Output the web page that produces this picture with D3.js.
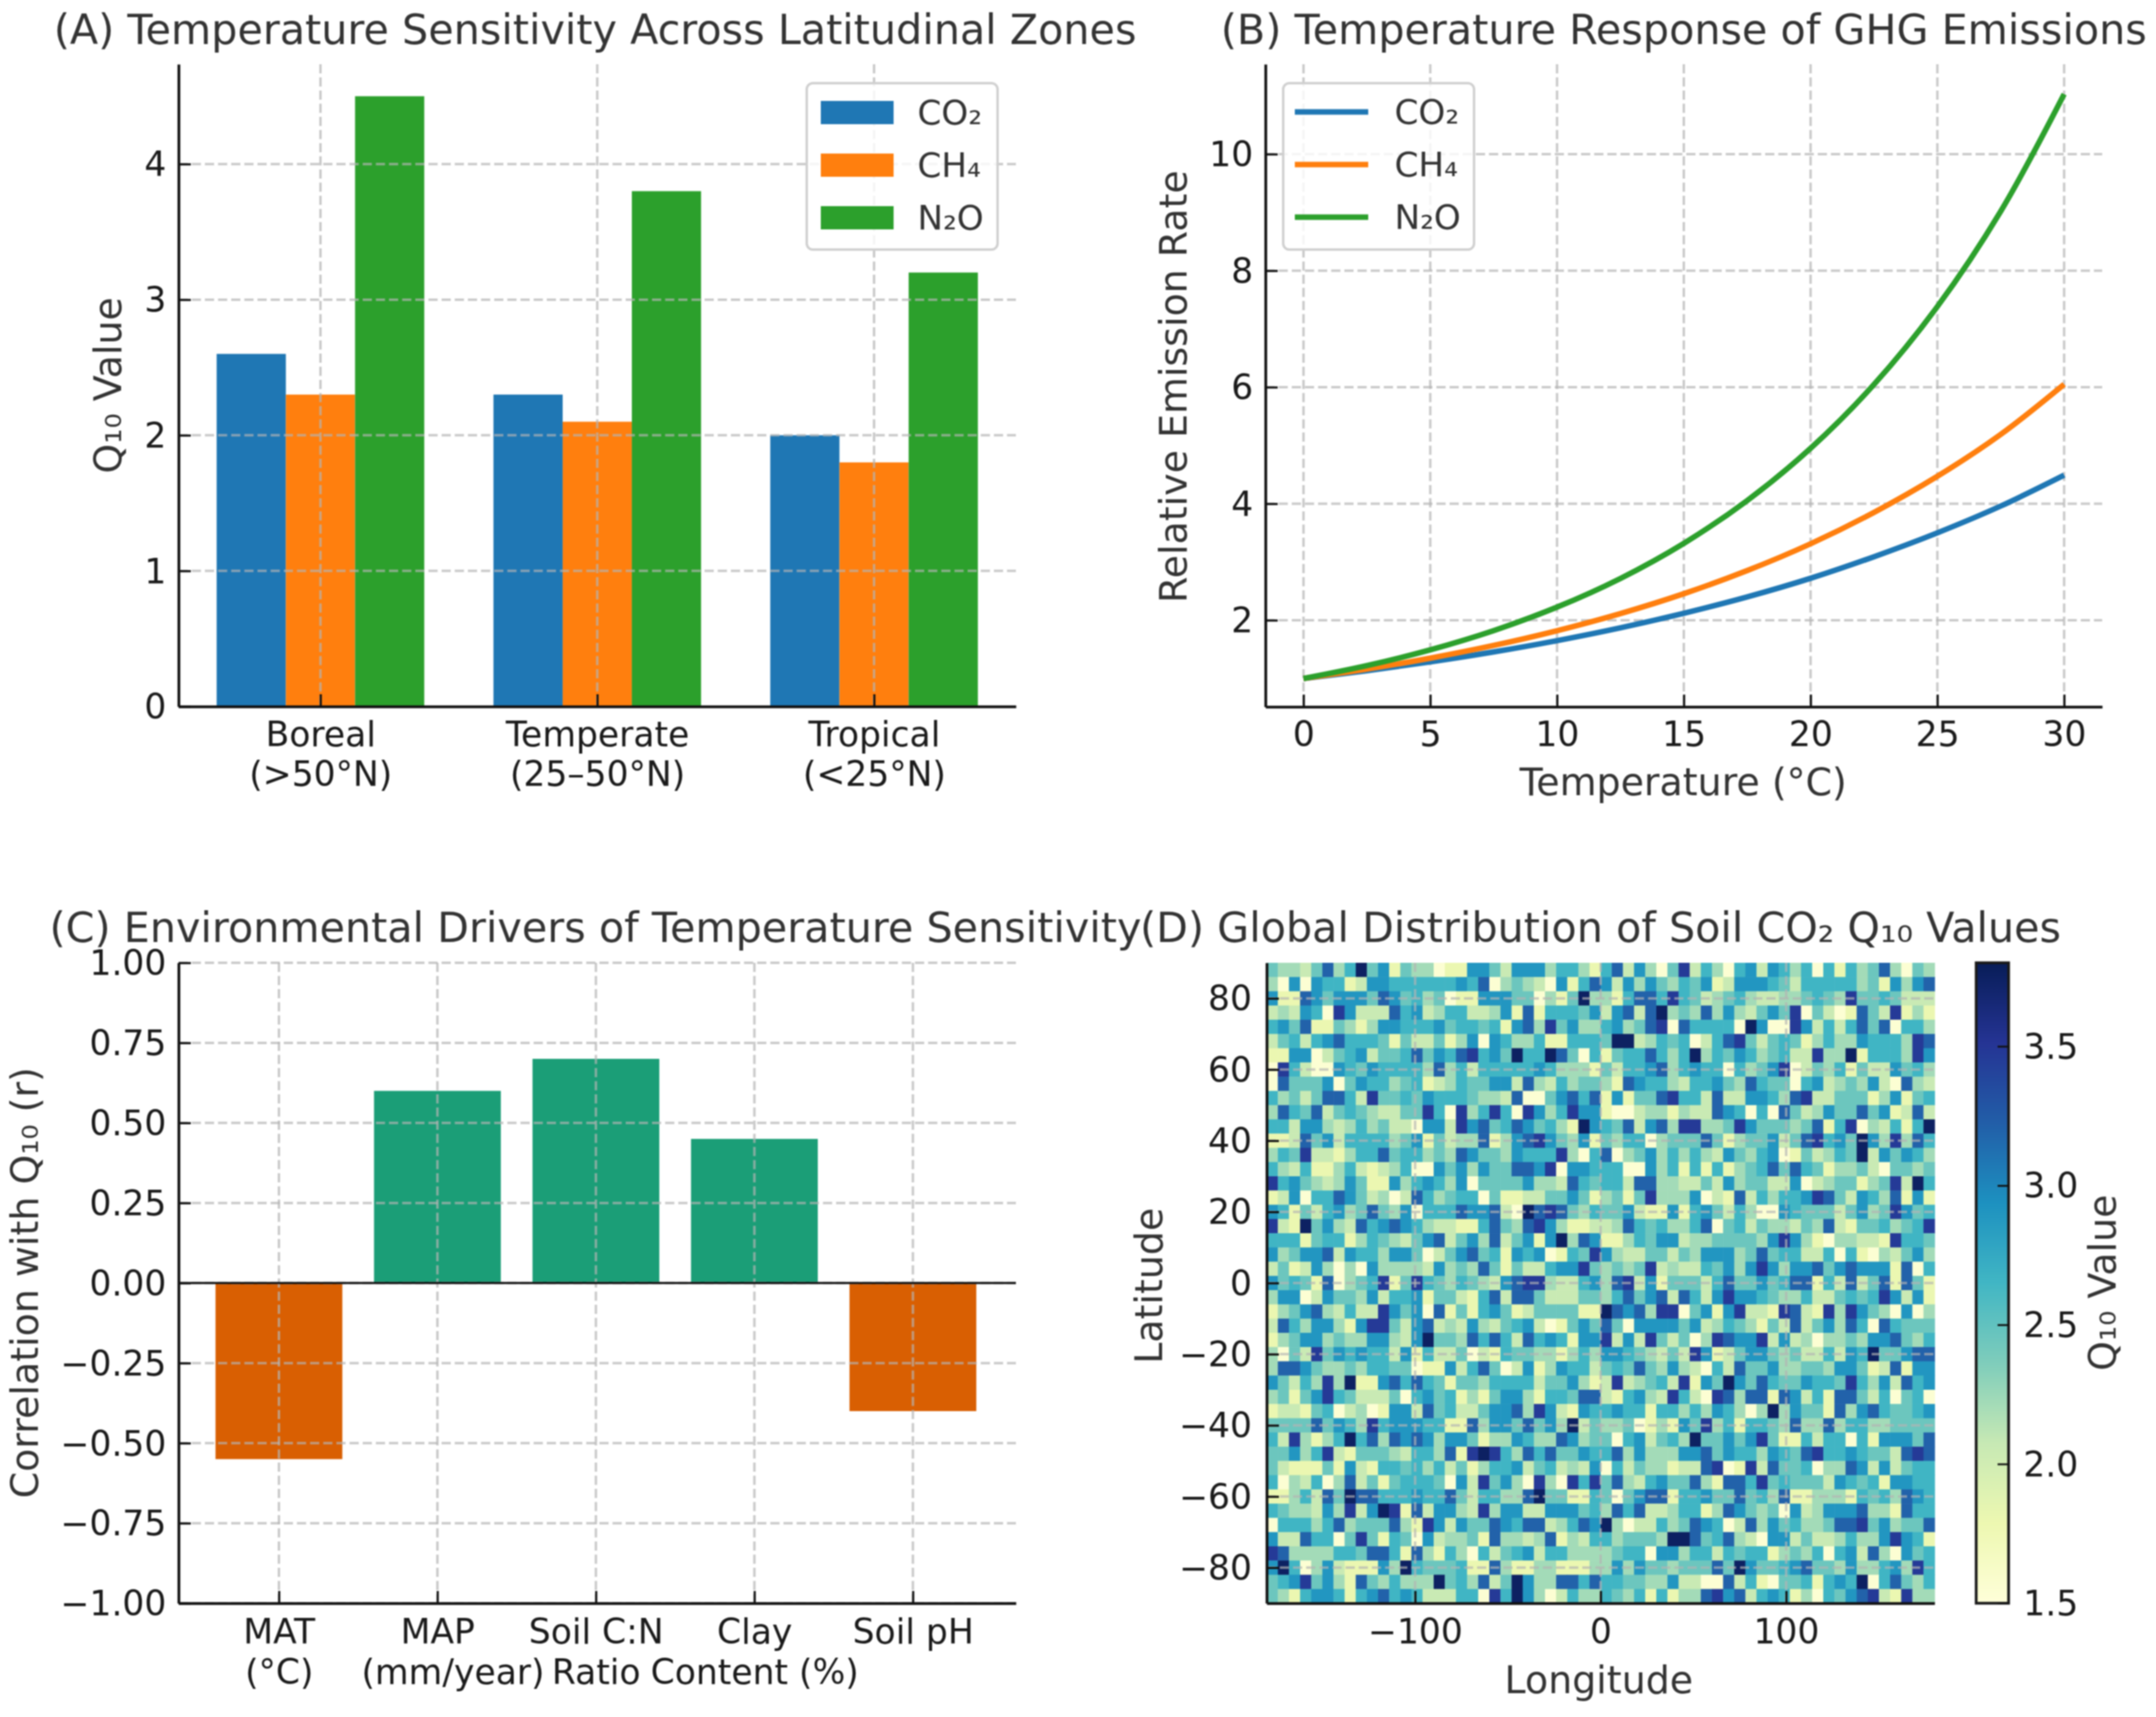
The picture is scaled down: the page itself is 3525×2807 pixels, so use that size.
<!DOCTYPE html>
<html><head><meta charset="utf-8">
<script src="https://cdn.jsdelivr.net/npm/d3@7/dist/d3.min.js"></script>
<style>html,body{margin:0;padding:0;background:#fff}svg{display:block;filter:blur(0.8px)}text{font-family:"DejaVu Sans",sans-serif}</style>
</head><body><div id="c"></div>
<script>
const zones=["Boreal\n(>50°N)","Temperate\n(25–50°N)","Tropical\n(<25°N)"];
const gases=["CO₂","CH₄","N₂O"];
const gasColors=["#1f77b4","#ff7f0e","#2ca02c"];
const q10CO2=[2.6,2.3,2.0];
const q10CH4=[2.3,2.1,1.8];
const q10N2O=[4.5,3.8,3.2];
const temps=[0,2.5,5,7.5,10,12.5,15,17.5,20,22.5,25,27.5,30];
const rateCO2=[1,1.133,1.285,1.456,1.65,1.87,2.12,2.40,2.72,3.09,3.50,3.96,4.49];
const rateCH4=[1,1.161,1.349,1.567,1.82,2.114,2.455,2.852,3.312,3.85,4.47,5.19,6.05];
const rateN2O=[1,1.221,1.492,1.822,2.225,2.717,3.319,4.054,4.951,6.046,7.384,9.02,11.03];
const drivers=["MAT\n(°C)","MAP\n(mm/year)","Soil C:N\nRatio","Clay\nContent (%)","Soil pH"];
const driverR=[-0.55,0.6,0.7,0.45,-0.4];
const ylgnbu=["#ffffd9","#edf8b1","#c7e9b4","#7fcdbb","#41b6c4","#1d91c0","#225ea8","#253494","#081d58"];
const levelValues=[1.54,1.8,2.06,2.22,2.45,2.66,2.9,3.2,3.47,3.75];
const heatLeft=[
"4 3 3 2 4 7 3 5 9 4 6 1 4 3 3 0 1 1 6 6 4 2 6 6 6 3 5 5 3",
"3 0 6 0 6 5 5 1 2 6 6 5 5 5 5 5 5 6 5 7 0 3 4 3 2 0 6 1 5",
"6 1 1 7 6 4 6 6 6 4 7 6 4 5 3 4 0 1 1 6 6 6 4 4 0 3 1 4 9",
"2 3 2 6 5 0 8 6 2 2 2 7 5 6 2 3 5 5 2 2 3 6 1 7 1 5 5 5 4",
"5 6 4 7 1 1 4 3 1 3 6 6 5 5 5 6 4 5 5 4 5 1 6 7 3 8 4 6 3",
"2 4 5 2 5 6 7 5 5 5 4 1 4 2 2 4 1 3 6 0 6 5 3 3 5 1 1 5 5",
"1 1 6 6 0 2 4 5 6 2 4 4 5 7 4 6 5 7 8 5 6 4 9 5 5 9 7 4 0",
"0 8 5 2 0 0 6 5 4 6 5 5 5 5 3 7 3 5 2 5 5 5 5 5 6 5 3 3 3",
"0 7 4 4 4 6 0 4 6 5 5 3 4 5 1 2 3 5 4 4 6 6 2 7 3 2 5 3 4",
"5 3 4 2 4 7 7 5 2 8 4 4 5 4 6 5 5 5 4 3 3 2 7 0 0 4 6 7 5",
"3 7 5 4 7 2 4 5 4 3 2 2 4 4 8 5 0 8 3 5 8 5 0 8 6 3 5 8 6",
"5 5 2 6 6 3 2 3 5 3 4 2 2 0 6 6 2 8 6 7 4 5 7 6 4 5 3 1 9",
"1 1 2 7 4 6 2 5 5 5 5 3 4 6 1 4 2 3 3 7 1 3 6 7 8 6 4 3 6",
"3 5 4 8 2 2 1 3 5 5 7 4 5 5 3 4 3 7 6 4 4 3 6 5 5 5 8 3 0",
"5 3 2 5 1 1 3 5 2 1 2 3 5 0 0 6 4 6 3 6 4 4 7 7 6 8 0 6 6",
"8 5 6 4 3 2 3 6 4 1 1 6 3 5 6 5 3 6 0 4 4 4 4 6 3 3 2 7 5",
"1 2 6 0 5 5 7 6 4 2 3 0 2 7 5 3 4 5 5 0 4 1 1 2 2 4 4 6 4",
"6 5 1 4 2 5 6 3 4 7 4 3 6 0 5 5 5 7 6 6 7 2 0 9 7 8 7 4 3",
"8 2 1 9 4 6 3 2 7 5 6 7 6 5 3 2 2 1 1 5 7 4 3 7 8 6 3 1 1",
"5 5 5 1 4 5 5 1 3 5 4 3 2 4 6 7 2 4 6 3 7 2 4 6 1 6 9 3 7",
"6 3 4 6 6 7 2 6 5 5 3 6 6 4 0 2 4 6 7 4 5 1 6 5 6 0 1 5 4",
"2 4 1 2 6 3 0 3 0 6 3 3 3 3 2 6 3 4 3 7 4 1 4 2 2 5 6 6 8",
"6 4 5 4 1 7 0 3 4 5 8 1 4 8 5 4 3 5 4 3 2 6 7 8 8 3 2 2 5",
"3 6 6 0 2 6 4 4 3 6 2 5 5 6 1 4 4 2 1 5 7 2 7 7 4 2 2 2 4",
"1 3 4 6 7 3 2 5 2 2 8 6 4 6 0 7 1 4 1 5 6 4 1 2 4 4 4 4 1",
"2 7 5 3 6 6 3 1 6 8 8 4 2 6 7 2 3 2 6 3 2 4 5 6 2 0 1 4 6",
"1 3 4 6 6 3 4 3 3 6 6 3 2 6 9 4 4 3 7 5 7 5 2 7 5 6 5 1 6",
"3 0 4 2 8 4 6 5 6 5 5 2 6 1 5 2 2 4 0 2 1 5 4 4 3 3 1 3 5",
"3 7 7 6 4 3 3 4 3 5 5 4 4 0 1 1 6 2 5 7 4 0 2 6 1 3 6 5 5",
"6 4 2 5 3 8 3 9 1 1 6 7 5 7 5 4 1 4 4 3 5 5 5 5 2 4 4 6 3",
"3 4 1 4 6 8 5 4 2 2 2 4 0 5 6 4 5 1 3 1 4 6 6 3 1 5 5 4 7",
"1 2 2 1 4 5 0 2 3 0 1 6 6 2 7 4 5 2 2 4 6 6 7 3 8 6 2 1 6",
"4 4 4 4 7 4 6 5 3 8 5 6 6 6 5 5 1 1 7 3 6 6 4 7 4 6 3 9 2",
"5 2 8 3 1 3 5 9 5 7 3 7 6 7 6 3 6 6 4 1 3 3 6 5 3 3 7 6 3",
"4 4 6 3 5 8 2 1 4 4 4 3 2 5 5 3 7 1 8 9 8 5 3 7 5 7 4 4 6",
"4 2 1 1 1 4 1 6 2 1 5 5 4 5 3 5 2 4 1 3 5 5 6 2 4 5 2 3 2",
"5 0 3 2 5 0 3 7 2 4 1 4 5 5 5 4 0 6 2 8 4 6 3 0 8 3 0 8 5",
"1 1 3 5 2 7 4 9 7 7 5 5 5 6 5 5 7 4 2 5 5 3 3 7 9 4 4 1 1",
"5 4 3 3 2 6 3 8 2 6 9 8 1 7 2 6 6 3 2 8 3 6 6 2 2 6 6 6 4",
"0 5 5 5 3 5 7 3 4 4 4 7 3 1 8 6 2 6 4 4 7 6 5 7 7 2 3 5 7",
"6 2 2 7 5 5 0 4 8 4 1 5 4 0 6 2 3 3 4 1 7 3 3 2 3 7 1 3 2",
"8 7 3 3 3 3 5 5 4 7 7 5 1 7 3 1 5 3 0 5 2 4 5 6 2 5 5 3 3",
"6 9 5 0 3 6 2 1 1 1 6 3 9 5 4 4 4 5 1 1 7 3 1 1 3 3 1 1 1",
"4 5 6 8 4 6 3 1 7 4 3 5 3 3 3 9 4 5 3 7 2 4 9 6 3 3 7 7 5",
"4 3 1 5 6 6 5 1 5 6 7 5 6 5 2 2 2 5 5 0 8 5 9 6 3 0 2 5 3"];
const heatRight=[
"1 5 7 2 6 3 0 4 8 2 5 3 0 5 6 2 6 5 3 5 0 5 1 5 3 4 7 3 0 4 3",
"7 6 2 6 3 6 4 3 5 4 6 1 2 6 6 6 5 4 2 5 5 5 5 5 3 4 1 6 3 6 7",
"3 3 1 5 7 7 5 8 5 4 2 3 4 5 3 2 2 3 3 4 5 4 3 8 4 4 5 4 2 2 2",
"6 2 6 7 2 7 9 3 4 3 7 3 6 3 2 4 6 4 8 0 4 2 0 1 7 4 2 8 1 3 1",
"3 5 6 3 4 7 8 0 7 5 5 5 5 0 9 6 0 0 8 6 2 5 2 5 7 4 7 0 5 5 3",
"5 4 9 9 2 3 5 4 5 0 2 5 7 8 4 2 4 5 4 1 3 5 3 3 6 5 5 5 3 8 7",
"5 1 4 5 5 7 5 3 5 9 3 5 4 6 5 3 4 5 2 2 8 3 3 9 1 5 5 5 3 8 6",
"1 4 2 5 5 6 7 3 5 6 5 5 0 5 3 4 6 8 0 2 4 3 5 1 4 2 2 6 4 5 3",
"4 3 1 7 6 5 5 3 2 5 5 6 4 3 7 5 4 4 0 5 6 2 3 4 3 6 2 0 7 3 2",
"7 1 6 1 4 4 7 8 5 5 2 7 2 2 6 6 5 3 7 8 2 2 4 4 4 1 3 6 1 4 5",
"6 1 0 0 2 3 3 1 3 2 2 7 6 5 0 5 0 7 4 2 3 6 4 4 7 4 6 1 2 7 2",
"6 5 4 7 2 6 7 3 8 8 3 3 4 8 6 4 4 4 3 4 7 1 5 8 0 3 2 5 1 5 9",
"1 4 3 5 5 0 3 4 4 4 7 4 1 3 4 4 6 2 4 7 8 5 6 4 9 6 3 8 3 7 5",
"5 7 0 3 4 6 3 5 3 5 3 2 6 4 3 5 6 0 1 4 2 3 5 4 9 2 6 4 6 5 3",
"5 5 5 0 0 6 3 5 1 5 1 5 1 3 4 5 7 4 7 5 4 1 3 3 4 2 0 4 4 3 4",
"4 5 5 2 7 7 3 3 2 2 4 2 6 3 4 4 2 2 6 0 2 3 4 4 1 3 4 8 2 9 5",
"1 3 4 1 4 8 3 3 3 6 0 2 1 7 2 5 3 5 5 6 8 7 4 2 6 5 3 7 1 6 1",
"5 4 4 6 2 1 1 6 1 5 6 4 2 5 3 0 0 6 5 4 4 4 2 4 6 3 4 8 6 4 5",
"2 2 3 7 5 4 5 3 3 5 7 0 4 5 2 4 3 3 2 4 3 7 2 1 4 4 5 3 4 5 8",
"6 1 1 3 5 4 6 6 2 3 3 4 4 4 4 3 6 8 6 3 1 0 3 3 2 2 1 8 5 5 4",
"8 6 3 2 2 4 4 2 4 3 6 6 6 3 4 7 4 5 5 2 2 5 0 5 1 0 3 2 4 6 3",
"4 3 4 3 4 8 2 3 2 2 5 4 6 3 6 8 6 3 6 6 7 4 6 7 6 6 6 1 7 0 5",
"6 3 7 8 2 6 1 4 4 4 2 5 7 4 4 6 4 5 7 7 1 5 2 7 2 4 7 1 7 4 1",
"4 3 5 7 4 6 7 2 7 5 2 6 8 6 6 5 4 3 3 5 2 2 4 5 4 5 8 6 2 6 1",
"1 9 7 6 7 3 8 8 0 4 6 1 6 8 2 2 1 8 7 2 1 8 3 8 6 4 3 0 6 0 3",
"4 7 4 0 6 6 6 6 4 6 2 3 5 4 3 1 4 2 7 2 4 6 3 7 5 0 7 5 4 4 4",
"6 8 2 6 2 8 4 2 4 0 3 8 7 6 6 8 2 6 2 3 0 3 3 4 3 6 6 7 4 3 5",
"3 6 6 5 4 3 2 4 2 8 6 1 2 4 6 6 4 3 4 2 2 5 2 6 5 9 4 4 6 7 7",
"2 4 5 4 7 4 3 6 3 2 0 5 2 7 4 4 6 3 3 4 4 3 6 6 4 1 2 7 1 6 6",
"1 2 8 2 3 4 5 2 8 1 6 4 9 6 4 7 5 4 4 6 5 5 4 8 5 3 6 2 7 5 6",
"7 2 1 5 6 3 2 8 5 2 0 8 7 3 7 7 1 7 6 2 5 1 7 7 4 2 5 0 4 5 0",
"5 5 6 5 5 1 5 5 3 5 3 6 5 3 0 3 9 3 6 4 4 1 7 3 6 7 5 4 4 5 6",
"4 3 3 4 0 1 3 1 6 4 8 3 5 1 5 5 4 3 7 3 3 7 3 5 5 3 3 4 4 4 4",
"4 4 0 5 6 2 4 5 3 9 4 4 6 4 6 8 4 1 1 5 2 5 5 0 5 1 6 6 6 4 7",
"5 5 7 3 6 3 3 3 6 6 7 4 6 5 5 3 6 5 4 7 8 5 5 6 5 4 4 2 7 8 7",
"6 0 5 2 4 3 3 1 2 2 7 8 0 1 8 2 7 4 4 5 0 3 3 7 6 2 6 2 4 5 5",
"8 4 7 3 2 5 6 4 4 7 3 1 7 7 5 8 4 5 4 4 4 2 6 5 4 5 1 6 6 5 5",
"5 4 0 4 6 7 7 1 5 5 6 4 4 7 4 5 3 7 1 1 3 3 3 1 5 4 5 3 7 6 5",
"5 3 7 5 7 2 2 3 5 5 1 3 7 6 4 3 4 0 6 2 3 6 6 6 7 3 3 1 7 5 5",
"6 9 3 0 2 2 5 3 4 7 6 5 0 2 7 3 6 4 5 3 3 4 7 7 8 4 6 3 4 4 7",
"5 5 3 4 4 4 3 9 9 7 4 5 7 3 2 0 6 6 2 4 2 2 3 5 3 3 6 8 6 5 1",
"3 3 4 5 5 0 6 6 3 5 5 2 5 4 5 5 1 3 4 3 5 0 5 6 2 7 3 0 6 4 5",
"3 3 6 3 6 4 4 3 4 4 4 7 4 9 6 4 4 5 6 7 4 4 3 6 3 3 5 6 3 8 5",
"7 5 5 4 4 3 3 6 2 2 0 0 7 2 5 1 0 4 4 5 1 5 6 5 9 0 5 7 4 3 5",
"3 5 4 3 5 1 5 1 3 3 7 8 6 7 2 5 6 5 1 3 0 5 4 6 7 8 2 1 8 3 3"];
const lonTicks=[-100,0,100];
const latTicks=[80,60,40,20,0,-20,-40,-60,-80];
const cbTicks=[1.5,2.0,2.5,3.0,3.5];

const W=3525,H=2807;
const TICK=56.5,LABEL=62,TITLE=67.5,LEG=56;
const INK="#1a1a1a",SOFT="#333333";
const svg=d3.select("#c").append("svg").attr("width",W).attr("height",H).attr("viewBox",[0,0,W,H]);
svg.append("rect").attr("width",W).attr("height",H).attr("fill","#fff");

const title=(x,y,t)=>svg.append("text").attr("x",x).attr("y",y).attr("font-size",TITLE).attr("fill",SOFT).text(t);
const xLabel=(x,y,t)=>svg.append("text").attr("x",x).attr("y",y).attr("text-anchor","middle").attr("font-size",LABEL).attr("fill",SOFT).text(t);
const yLabel=(x,y,t)=>svg.append("text").attr("transform",`translate(${x},${y}) rotate(-90)`).attr("text-anchor","middle").attr("font-size",LABEL).attr("fill",SOFT).text(t);

function styleAxis(g,hideDomain){
  g.selectAll("text").attr("font-size",TICK).attr("fill",INK).attr("font-family",'"DejaVu Sans",sans-serif').attr("dy","0.35em");
  g.selectAll(".tick line").attr("stroke","#111").attr("stroke-width",3.5);
  g.select(".domain").attr("stroke","#111").attr("stroke-width",4.5);
  if(hideDomain) g.select(".domain").remove();
}
function grid(xScale,yScale,xVals,yVals,box){
  const g=svg.append("g").attr("fill","none").attr("stroke","#b4b4b4").attr("stroke-opacity",0.7).attr("stroke-width",4).attr("stroke-dasharray","15 6.5");
  g.selectAll(".gx").data(xVals).join("line").attr("x1",d=>xScale(d)).attr("x2",d=>xScale(d)).attr("y1",box.t).attr("y2",box.b);
  g.selectAll(".gy").data(yVals).join("line").attr("y1",d=>yScale(d)).attr("y2",d=>yScale(d)).attr("x1",box.l).attr("x2",box.r);
}
function multiline(g,first,lh,shift={}){
  g.selectAll(".tick text").attr("dy",null).each(function(d){
    const el=d3.select(this),s=String(this.textContent).split("\n");
    el.text(null).attr("y",null);
    s.forEach((t,i)=>el.append("tspan").attr("x",i?(shift[d]||0):0).attr("y",first+i*lh).text(t));
  });
}
function legend(box,items,kind){
  svg.append("rect").attr("x",box.x).attr("y",box.y).attr("width",box.w).attr("height",box.h).attr("rx",10)
    .attr("fill","#fff").attr("fill-opacity",0.8).attr("stroke","#d0d0d0").attr("stroke-width",4);
  items.forEach((t,i)=>{
    const cy=box.y0+i*box.dy;
    if(kind==="bar") svg.append("rect").attr("x",box.hx).attr("y",cy-19).attr("width",box.hw).attr("height",38).attr("fill",gasColors[i]);
    else svg.append("line").attr("x1",box.hx).attr("x2",box.hx+box.hw).attr("y1",cy).attr("y2",cy).attr("stroke",gasColors[i]).attr("stroke-width",9);
    svg.append("text").attr("x",box.tx).attr("y",cy+19).attr("font-size",LEG).attr("fill",SOFT).text(t);
  });
}

/* Panel A */
{
  const box={l:292,r:1661,t:105,b:1155};
  const x=d3.scaleLinear().domain([-0.5125,2.5125]).range([box.l,box.r]);
  const y=d3.scaleLinear().domain([0,4.736]).range([box.b,box.t]);
  const series=[q10CO2,q10CH4,q10N2O];
  const bw=x(0.25)-x(0);
  series.forEach((vals,k)=>{
    svg.append("g").selectAll("rect").data(vals).join("rect")
      .attr("x",(d,i)=>x(i+(k-1)*0.25-0.125)).attr("width",bw)
      .attr("y",d=>y(d)).attr("height",d=>y(0)-y(d)).attr("fill",gasColors[k]);
  });
  grid(x,y,[0,1,2],[1,2,3,4],box);
  const ax=svg.append("g").attr("transform",`translate(${box.l},0)`).call(d3.axisLeft(y).tickValues([0,1,2,3,4]).tickFormat(d3.format("d")).tickSizeInner(-20).tickSizeOuter(0).tickPadding(20));
  styleAxis(ax);
  const bx=svg.append("g").attr("transform",`translate(0,${box.b})`).call(d3.axisBottom(x).tickValues([0,1,2]).tickFormat(i=>zones[i]).tickSizeInner(-20).tickSizeOuter(0).tickPadding(20));
  styleAxis(bx); multiline(bx,65,65);
  yLabel(198,630,"Q₁₀ Value");
  title(88,72,"(A) Temperature Sensitivity Across Latitudinal Zones");
  legend({x:1319,y:136,w:312,h:272,y0:184,dy:86,hx:1342,hw:119,tx:1500},gases,"bar");
}

/* Panel B */
{
  const box={l:2069,r:3437,t:105,b:1155.5};
  const x=d3.scaleLinear().domain([-1.5,31.5]).range([box.l,box.r]);
  const y=d3.scaleLinear().domain([0.514,11.543]).range([box.b,box.t]);
  grid(x,y,[0,5,10,15,20,25,30],[2,4,6,8,10],box);
  const line=d3.line().x((d,i)=>x(temps[i])).y(d=>y(d)).curve(d3.curveCatmullRom);
  [rateCO2,rateCH4,rateN2O].forEach((s,k)=>svg.append("path").attr("d",line(s)).attr("fill","none").attr("stroke",gasColors[k]).attr("stroke-width",9));
  const ax=svg.append("g").attr("transform",`translate(${box.l},0)`).call(d3.axisLeft(y).tickValues([2,4,6,8,10]).tickSizeInner(-20).tickSizeOuter(0).tickPadding(20));
  styleAxis(ax);
  const bx=svg.append("g").attr("transform",`translate(0,${box.b})`).call(d3.axisBottom(x).tickValues([0,5,10,15,20,25,30]).tickSizeInner(-20).tickSizeOuter(0).tickPadding(24));
  styleAxis(bx); bx.selectAll(".tick text").attr("dy","0.71em");
  xLabel(2752,1300,"Temperature (°C)");
  yLabel(1940,632,"Relative Emission Rate");
  title(1996,72,"(B) Temperature Response of GHG Emissions");
  legend({x:2098,y:136,w:312,h:272,y0:183,dy:86,hx:2117,hw:120,tx:2280},gases,"line");
}

/* Panel C */
{
  const box={l:292,r:1661,t:1574,b:2621};
  const x=d3.scaleLinear().domain([-0.633,4.65]).range([box.l,box.r]);
  const y=d3.scaleLinear().domain([-1,1]).range([box.b,box.t]);
  svg.append("g").selectAll("rect").data(driverR).join("rect")
    .attr("x",(d,i)=>x(i-0.4)).attr("width",x(0.8)-x(0))
    .attr("y",d=>y(Math.max(d,0))).attr("height",d=>Math.abs(y(d)-y(0)))
    .attr("fill",d=>d<0?"#d95f02":"#1b9e77");
  const yt=[-1,-0.75,-0.5,-0.25,0,0.25,0.5,0.75,1];
  grid(x,y,[0,1,2,3,4],yt,box);
  svg.append("line").attr("x1",box.l).attr("x2",box.r).attr("y1",y(0)).attr("y2",y(0)).attr("stroke","#111").attr("stroke-width",3.5);
  const ax=svg.append("g").attr("transform",`translate(${box.l},0)`).call(d3.axisLeft(y).tickValues(yt).tickFormat(d3.format(".2f")).tickSizeInner(-20).tickSizeOuter(0).tickPadding(20));
  styleAxis(ax);
  const bx=svg.append("g").attr("transform",`translate(0,${box.b})`).call(d3.axisBottom(x).tickValues([0,1,2,3,4]).tickFormat(i=>drivers[i]).tickSizeInner(-20).tickSizeOuter(0).tickPadding(20));
  styleAxis(bx); multiline(bx,66,66,{1:25});
  yLabel(62,2097,"Correlation with Q₁₀ (r)");
  title(81,1540,"(C) Environmental Drivers of Temperature Sensitivity");
}

/* Panel D */
{
  const box={l:2071,r:3163,t:1574,b:2621};
  const x=d3.scaleLinear().domain([-180,180]).range([box.l,box.r]);
  const y=d3.scaleLinear().domain([-90,90]).range([box.b,box.t]);
  const toks=s=>s.trim().split(/\s+/).map(Number);
  const cells=heatLeft.map((s,i)=>toks(s).concat(toks(heatRight[i])).map(l=>levelValues[l]));
  const col=d3.scaleBand().domain(d3.range(cells[0].length)).range([box.l,box.r]);
  const row=d3.scaleBand().domain(d3.range(cells.length)).range([box.t,box.b]);
  const color=d3.scaleLinear().domain(ylgnbu.map((c,i)=>1.5+i*(3.8-1.5)/8)).range(ylgnbu).interpolate(d3.interpolateRgb);
  const hg=svg.append("g");
  cells.forEach((r,ri)=>hg.selectAll(null).data(r).join("rect")
    .attr("x",(d,i)=>col(i)).attr("y",row(ri)).attr("width",col.bandwidth()+0.6).attr("height",row.bandwidth()+0.6).attr("fill",d=>color(d)));
  grid(x,y,lonTicks,latTicks,box);
  const ax=svg.append("g").attr("transform",`translate(${box.l},0)`).call(d3.axisLeft(y).tickValues(latTicks).tickFormat(d3.format("d")).tickSizeInner(-20).tickSizeOuter(0).tickPadding(24));
  styleAxis(ax);
  const bx=svg.append("g").attr("transform",`translate(0,${box.b})`).call(d3.axisBottom(x).tickValues(lonTicks).tickFormat(d3.format("d")).tickSizeInner(-20).tickSizeOuter(0).tickPadding(26));
  styleAxis(bx); bx.selectAll(".tick text").attr("dy","0.71em");
  xLabel(2614,2768,"Longitude");
  yLabel(1900,2102,"Latitude");
  title(1864,1540,"(D) Global Distribution of Soil CO₂ Q₁₀ Values");

  /* colour bar */
  const cb={l:3231,r:3284,t:1574,b:2621};
  const cy=d3.scaleLinear().domain([1.5,3.8]).range([cb.b,cb.t]);
  const defs=svg.append("defs"),gr=defs.append("linearGradient").attr("id","cbg").attr("x1",0).attr("x2",0).attr("y1",1).attr("y2",0);
  ylgnbu.forEach((c,i)=>gr.append("stop").attr("offset",i/8).attr("stop-color",c));
  svg.append("rect").attr("x",cb.l).attr("y",cb.t).attr("width",cb.r-cb.l).attr("height",cb.b-cb.t).attr("fill","url(#cbg)").attr("stroke","#1a1a1a").attr("stroke-width",4.5);
  const ca=svg.append("g").attr("transform",`translate(${cb.r},0)`).call(d3.axisRight(cy).tickValues(cbTicks).tickFormat(d3.format(".1f")).tickSizeInner(-18).tickSizeOuter(0).tickPadding(24));
  styleAxis(ca,true); ca.selectAll(".tick line").attr("stroke-width",3);
  yLabel(3459,2097,"Q₁₀ Value");
}
</script></body></html>
